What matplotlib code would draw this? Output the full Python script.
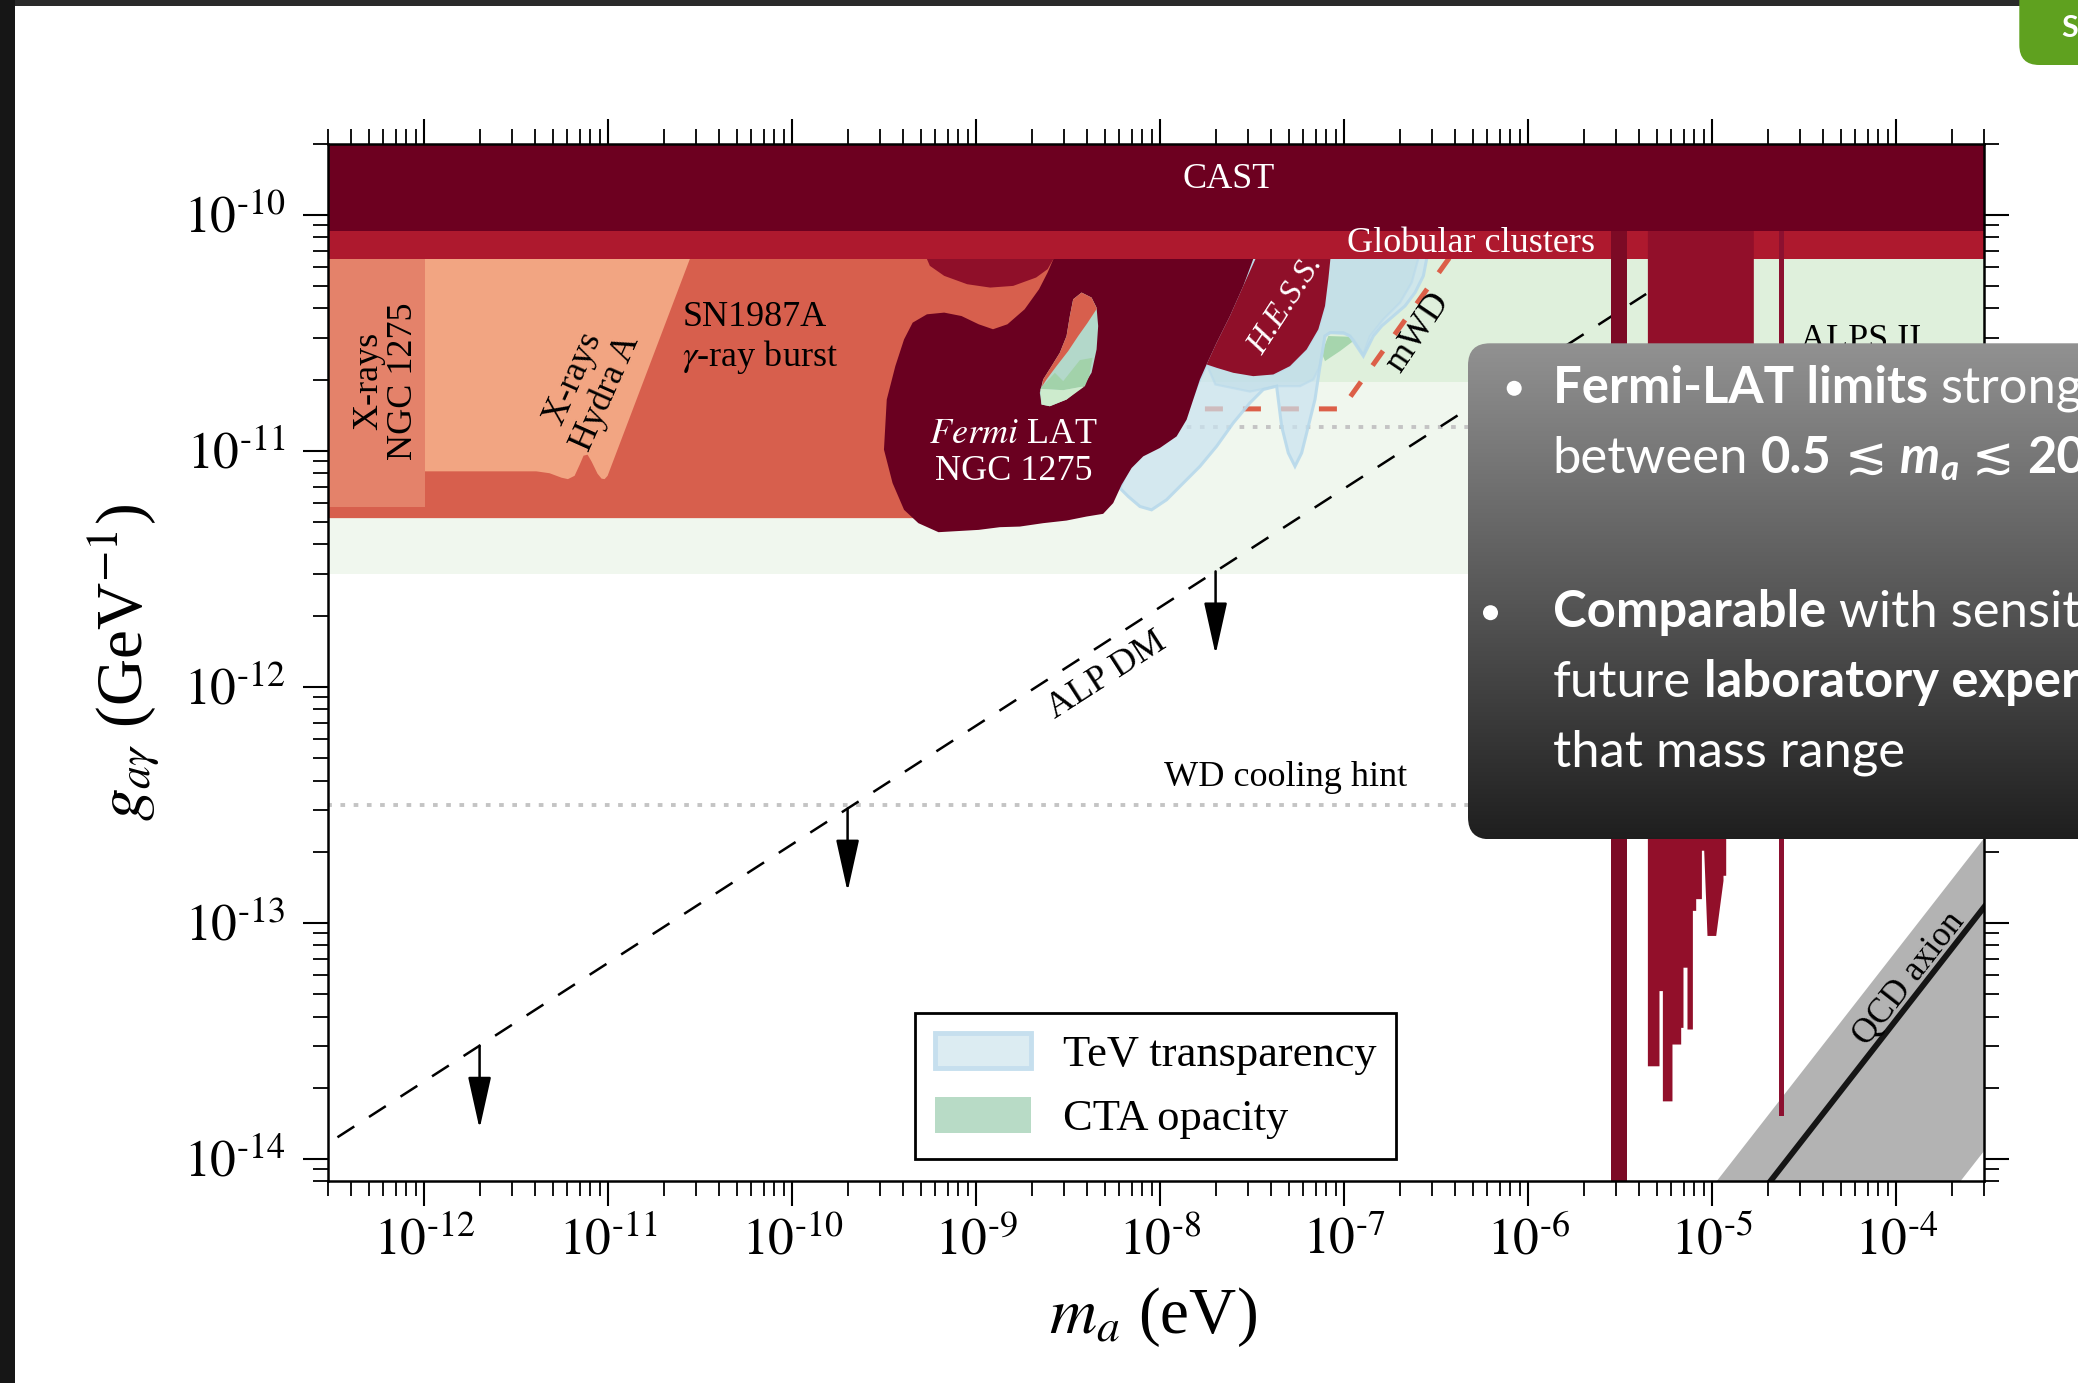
import numpy as np
import matplotlib
matplotlib.use("Agg")
import matplotlib.pyplot as plt
from matplotlib.patches import Polygon, FancyBboxPatch, Patch, Circle, Rectangle
from matplotlib.ticker import LogLocator, NullFormatter, FuncFormatter
from matplotlib.font_manager import FontProperties

plt.rcParams['font.family'] = ['Liberation Serif', 'DejaVu Serif']
plt.rcParams['mathtext.fontset'] = 'stix'

# ---------------- data: log10(m_a / eV), log10(g / GeV^-1) ----------------
x_limits = (3e-13, 3e-4)
y_limits = (8e-15, 2e-10)
x_span = [-12.6, -3.4]

cast_ly = [-10.069, -9.5]
globular_ly = [-10.189, -10.069]
light_green_ly = [-11.523, -10.189]
alps2_ly = [-10.7116, -10.189]

ngc_xray_lx = [-12.6, -11.993, -11.993, -12.6]
ngc_xray_ly = [-10.15, -10.15, -11.237, -11.237]

hydra_lx = [-12.6, -10.5376, -11.0033, -11.0196, -11.036, -11.058, -11.09, -11.112,
            -11.134, -11.155, -11.1827, -11.219, -11.2535, -11.3187, -11.391, -12.6]
hydra_ly = [-10.15, -10.15, -11.107, -11.121, -11.119, -11.098, -11.047, -11.0174,
            -11.0217, -11.06, -11.107, -11.121, -11.115, -11.096, -11.088, -11.088]

sn_lx = [-12.6, -8.25, -8.3441, -8.6432, -8.85, -9.1, -12.6]
sn_ly = [-10.15, -10.15, -10.3986, -10.73, -11.0, -11.2863, -11.2863]

fermi_lx = [-8.5807, -7.476, -7.5484, -7.6209, -7.6934, -7.7478, -7.7841, -7.8205, -7.8564,
            -7.9108, -8.0016, -8.0924, -8.1555, -8.2099, -8.2555, -8.31, -8.4002, -8.509,
            -8.6362, -8.7629, -8.8716, -8.9864, -9.205, -9.3143, -9.3921, -9.4546, -9.5013,
            -9.4861, -9.4394, -9.3921, -9.3453, -9.2676, -9.174, -9.0799, -8.9864, -8.9086,
            -8.8303, -8.7368, -8.6585, -8.6118, -8.5807]
fermi_ly = [-10.15, -10.15, -10.3023, -10.4298, -10.5431, -10.635, -10.699, -10.784, -10.869,
            -10.94, -10.989, -11.0246, -11.074, -11.145, -11.2226, -11.268, -11.2795, -11.2965,
            -11.3076, -11.322, -11.3246, -11.336, -11.3458, -11.3076, -11.251, -11.1376, -10.996,
            -10.784, -10.642, -10.529, -10.458, -10.4227, -10.4155, -10.43, -10.465, -10.486,
            -10.465, -10.4015, -10.3165, -10.2455, -10.189]

hole_lx = [-8.4274, -8.373, -8.3458, -8.3371, -8.3458, -8.373, -8.4187, -8.509, -8.5998,
           -8.6449, -8.6542, -8.6362, -8.5905, -8.5454, -8.509, -8.491, -8.4731]
hole_ly = [-10.3305, -10.3517, -10.3942, -10.4724, -10.5714, -10.6703, -10.7273, -10.7838,
           -10.8122, -10.805, -10.7553, -10.6988, -10.6423, -10.5854, -10.5149, -10.4299, -10.359]
hole_sn_lx = [-8.4275, -8.3731, -8.3441, -8.3967, -8.4457, -8.5, -8.5635, -8.6178, -8.6432,
              -8.636, -8.5906, -8.5453, -8.5091, -8.491, -8.4728]
hole_sn_ly = [-10.3307, -10.3519, -10.3986, -10.4609, -10.5147, -10.5785, -10.6422, -10.6988,
              -10.73, -10.6988, -10.6422, -10.5855, -10.5147, -10.4298, -10.359]
hole_green_lx = [-8.6396, -8.5725, -8.5272, -8.4366, -8.3677, -8.3858, -8.4094, -8.5272, -8.6505]
hole_green_ly = [-10.7271, -10.6705, -10.7059, -10.6167, -10.6068, -10.6847, -10.7272, -10.7441, -10.7385]
hole_pale_lx = [-8.6505, -8.5272, -8.4094, -8.5091, -8.5997, -8.645]
hole_pale_ly = [-10.7385, -10.7441, -10.7272, -10.7838, -10.8121, -10.805]

bulge_lx = [-9.2675, -9.2675, -9.2519, -9.1738, -9.049, -8.9241, -8.7992, -8.6744, -8.612, -8.5807, -8.5807]
bulge_ly = [-10.15, -10.189, -10.2173, -10.2598, -10.2952, -10.3094, -10.3023, -10.2669, -10.2315, -10.189, -10.15]

hess_lx = [-7.46, -7.07, -7.0862, -7.1043, -7.1406, -7.204, -7.2947, -7.3853, -7.4941,
           -7.6028, -7.6934, -7.7478, -7.6934, -7.6209, -7.5484]
hess_ly = [-10.15, -10.15, -10.274, -10.3873, -10.4864, -10.5714, -10.6422, -10.6776, -10.6847,
           -10.6705, -10.6493, -10.6351, -10.5431, -10.4298, -10.3023]

tev_lx = [-7.07, -6.5425, -6.5697, -6.615, -6.6694, -6.7328, -6.7963, -6.8416, -6.8778, -6.896,
          -6.9322, -6.9685, -7.0047, -7.0772, -7.1044, -7.1316, -7.1588, -7.195, -7.2313, -7.2675,
          -7.3038, -7.3401, -7.3673, -7.4398, -7.5123, -7.6029, -7.6935, -7.7841, -7.8747, -7.9653,
          -8.0469, -8.1103, -8.1738, -8.2191, -8.1466, -7.9653, -7.8566, -7.8022, -7.7478, -7.46]
tev_ly = [-10.15, -10.15, -10.2599, -10.3307, -10.3873, -10.4298, -10.4723, -10.5147, -10.5714, -10.5997,
          -10.5572, -10.5147, -10.5006, -10.5006, -10.5147, -10.6422, -10.7838, -10.8971, -11.0104, -11.067,
          -11.0104, -10.8971, -10.7272, -10.7413, -10.798, -10.8829, -10.982, -11.067, -11.1378, -11.2086,
          -11.2511, -11.2369, -11.1945, -11.1591, -11.0245, -10.9537, -10.8404, -10.7272, -10.6351, -10.15]
tev_core_lx = [-7.0862, -6.5841, -6.6331, -6.6966, -6.7872, -6.8597, -6.896, -6.9503, -6.9866,
               -7.0772, -7.1044, -7.1316, -7.1678, -7.2403, -7.3673, -7.5123, -7.7, -7.7478,
               -7.6934, -7.3853, -7.2947, -7.204, -7.1406, -7.1043]
tev_core_ly = [-10.15, -10.15, -10.2882, -10.3732, -10.4439, -10.5147, -10.5926, -10.5289, -10.5077,
               -10.5006, -10.5147, -10.6422, -10.6988, -10.7272, -10.7272, -10.75, -10.72, -10.6351,
               -10.6493, -10.6776, -10.6422, -10.5714, -10.4864, -10.3873]
cta_lx = [-7.0862, -6.9775, -6.9503, -7.0228, -7.1044, -7.1225]
cta_ly = [-10.5147, -10.5176, -10.536, -10.5785, -10.621, -10.5855]

bar1_lx = [-5.5519, -5.4622]
bar1_ly = [-14.3, -10.07]
haloscope_lx = [-5.3496, -5.3496, -5.2865, -5.2865, -5.2681, -5.2681, -5.2159, -5.2159, -5.1686,
                -5.1686, -5.1561, -5.1561, -5.1343, -5.1343, -5.105, -5.105, -5.087, -5.087,
                -5.056, -5.056, -5.0435, -5.0256, -4.9783, -4.9386, -4.9386, -4.9239, -4.9239,
                -4.7738, -4.7738]
haloscope_ly = [-10.07, -13.6088, -13.6088, -13.2902, -13.2902, -13.7574, -13.7574, -13.5166, -13.5166,
                -13.446, -13.446, -13.1911, -13.1911, -13.4529, -13.4529, -12.9503, -12.9503, -12.9006,
                -12.9006, -12.6954, -12.6954, -13.0565, -13.0565, -12.8229, -12.8016, -12.8016, -11.5,
                -11.5, -10.07]
bar3_lx = [-4.6357, -4.6112]
bar3_ly = [-13.8211, -10.07]

qcd_band_lx = [-5.0, -3.4, -3.4, -3.7]
qcd_band_ly = [-14.12, -12.52, -13.845, -14.145]
qcd_line_lx = [-4.75, -3.4]
qcd_line_ly = [-14.162, -12.812]

alp_dm_lx = [-12.4714, -5.3589]
alp_dm_ly = [-13.9095, -10.3364]
arrow_lx = [-11.699, -9.699, -7.699]
arrow_top_ly = [-13.5215, -12.5167, -11.5119]
arrow_len = 0.352

mwd_lx = [-7.757, -7.0138, -6.4337, -6.3979]
mwd_ly = [-10.8234, -10.8234, -10.1891, -10.15]
wd_hint_ly = -12.503
dotted_upper_ly = -10.9013

# ---------------- figure ----------------
W, H = 2078, 1383
fig = plt.figure(figsize=(W / 100, H / 100), dpi=100)
fig.patch.set_facecolor('white')
ax = fig.add_axes([0.15784, 0.14570, 0.79692, 0.75054])
ax.set_xscale('log')
ax.set_yscale('log')
ax.set_xlim(*x_limits)
ax.set_ylim(*y_limits)


def P(lx, ly):
    return np.column_stack([np.power(10.0, np.asarray(lx, float)), np.power(10.0, np.asarray(ly, float))])


def poly(lx, ly, z, **kw):
    p = Polygon(P(lx, ly), closed=True, zorder=z, **kw)
    ax.add_patch(p)
    return p


def hband(ly, color, z):
    poly([x_span[0], x_span[1], x_span[1], x_span[0]], [ly[0], ly[0], ly[1], ly[1]], z, fc=color, ec='none')


def vbar(lx, ly, color, z):
    poly([lx[0], lx[1], lx[1], lx[0]], [ly[0], ly[0], ly[1], ly[1]], z, fc=color, ec='none')


hband(light_green_ly, '#f0f7ee', 1.0)
hband(alps2_ly, '#dff0dc', 1.1)

dot = dict(color='#c4c4c4', lw=2.8, ls=(0, (1.2, 2.2)), zorder=1.2, solid_capstyle='butt')
ax.plot(10.0 ** np.array(x_span), [10 ** wd_hint_ly] * 2, **dot)
ax.plot(10.0 ** np.array(x_span), [10 ** dotted_upper_ly] * 2, **dot)
ax.plot(*P(mwd_lx, mwd_ly).T, color='#dc5f48', lw=3.6, ls=(0, (3.6, 4.0)), zorder=1.3)
ax.plot(*P(alp_dm_lx, alp_dm_ly).T, color='black', lw=1.8, ls=(0, (8, 7)), zorder=1.4)

poly(qcd_band_lx, qcd_band_ly, 1.5, fc='#b3b3b3', ec='none')
ax.plot(*P(qcd_line_lx, qcd_line_ly).T, color='#151515', lw=4.2, zorder=1.6, solid_capstyle='butt')

poly(cta_lx, cta_ly, 1.9, fc='#a6d5ad', ec='none')
poly(tev_lx, tev_ly, 2.0, fc=(0.79, 0.89, 0.94, 0.7), ec=(0.72, 0.85, 0.92, 0.9), lw=2.2)
poly(tev_core_lx, tev_core_ly, 2.05, fc=(0.70, 0.84, 0.89, 0.35), ec=(0.72, 0.85, 0.92, 0.6), lw=1.6)

poly(sn_lx, sn_ly, 2.2, fc='#d75f4d', ec='none')
poly(hydra_lx, hydra_ly, 2.3, fc='#f2a582', ec='none')
poly(ngc_xray_lx, ngc_xray_ly, 2.4, fc='#e4826a', ec='none')

poly(fermi_lx, fermi_ly, 3.0, fc='#6a0020', ec='none')
poly(hole_lx, hole_ly, 3.1, fc='#b3d8ca', ec='none')
poly(hole_sn_lx, hole_sn_ly, 3.2, fc='#d75f4d', ec='none')
poly(hole_green_lx, hole_green_ly, 3.3, fc='#a2d2aa', ec='none')
poly(hole_pale_lx, hole_pale_ly, 3.35, fc='#cdebcd', ec='none')
poly(bulge_lx, bulge_ly, 3.4, fc='#8f0f29', ec='none')
poly(hess_lx, hess_ly, 3.5, fc='#8f0f29', ec='none')

hband(globular_ly, '#ae192e', 4.0)
vbar(bar1_lx, bar1_ly, '#7c0a25', 4.1)
poly(haloscope_lx, haloscope_ly, 4.1, fc='#920f2a', ec='none')
vbar(bar3_lx, bar3_ly, '#8c1030', 4.1)
hband(cast_ly, '#6d0020', 4.2)

for lx, ly in zip(arrow_lx, arrow_top_ly):
    ax.annotate('', xy=(10 ** lx, 10 ** (ly - arrow_len)), xytext=(10 ** lx, 10 ** ly),
                arrowprops=dict(arrowstyle='-|>,head_length=0.9,head_width=0.2', lw=1.8,
                                color='black', mutation_scale=36, shrinkA=0, shrinkB=0),
                zorder=5)

fs = 26
def lab(lx, ly, s, **kw):
    kw.setdefault('ha', 'center')
    kw.setdefault('va', 'center')
    kw.setdefault('fontsize', fs)
    ax.text(10 ** lx, 10 ** ly, s, zorder=6, rotation_mode='anchor', **kw)

lab(-7.629, -9.85, 'CAST', color='white')
lab(-6.3105, -10.121, 'Globular clusters', color='white')
lab(-12.207, -10.707, 'X-rays\nNGC 1275', rotation=90, multialignment='center', linespacing=1.1)
lab(-11.101, -10.727, 'X-rays\nHydra A', rotation=66, multialignment='center', linespacing=1.1)
lab(-10.598, -10.526, 'SN1987A\n$\\gamma$-ray burst', ha='left', multialignment='left', linespacing=1.15)
lab(-8.796, -11.01, '$\\it{Fermi}$ LAT\nNGC 1275', color='white', multialignment='center', linespacing=1.15)
lab(-7.319, -10.382, 'H.E.S.S.', color='white', rotation=57, style='italic', fontsize=24)
lab(-6.60, -10.50, 'mWD', rotation=56)
lab(-4.195, -10.5325, 'ALPS II')
lab(-8.292, -11.955, 'ALP DM', rotation=32.7)
lab(-7.3192, -12.384, 'WD cooling hint')
lab(-3.931, -13.237, 'QCD axion', rotation=52, fontsize=25)

# axes styling
for s in ax.spines.values():
    s.set_linewidth(1.8)
    s.set_zorder(10)
ax.xaxis.set_zorder(10)
ax.yaxis.set_zorder(10)
for axis in (ax.xaxis, ax.yaxis):
    axis.set_major_locator(LogLocator(base=10, numticks=30))
    axis.set_minor_locator(LogLocator(base=10, subs=np.arange(2, 10), numticks=300))
    axis.set_minor_formatter(NullFormatter())
    axis.set_major_formatter(FuncFormatter(lambda v, p: r'$10^{\text{-}%d}$' % int(round(-np.log10(v)))))
ax.tick_params(which='both', direction='out', top=True, right=True, labeltop=False, labelright=False)
ax.tick_params(which='major', length=18, width=1.5, labelsize=37)
ax.tick_params(which='minor', length=11, width=1.3)
ax.tick_params(axis='x', which='major', pad=8)
ax.tick_params(axis='y', which='major', pad=13)

ax.set_xlabel(r'$m_a$ (eV)', fontsize=47)
ax.xaxis.set_label_coords(0.4982, -0.1)
ax.set_ylabel(r'$g_{a\gamma}$ (GeV$^{-1}$)', fontsize=47)
ax.yaxis.set_label_coords(-0.100, 0.5)

handles = [Patch(fc='#dcecf2', ec='#c6dfee', lw=3.5, label='TeV transparency'),
           Patch(fc='#b8dbc6', ec='none', label='CTA opacity')]
leg = ax.legend(handles=handles, loc='lower left', bbox_to_anchor=(0.3546, 0.0214), borderaxespad=0,
                fontsize=32, handlelength=2.15, handleheight=0.85, handletextpad=0.72,
                labelspacing=0.5, borderpad=0.45, frameon=True, fancybox=False,
                edgecolor='black', framealpha=1)
leg.get_frame().set_linewidth(2.0)
leg.set_zorder(8)

# ---------------- slide overlay (screenshot chrome) ----------------
oax = fig.add_axes([0, 0, 1, 1], zorder=20)
oax.set_autoscale_on(False)
oax.set_xlim(0, W)
oax.set_ylim(H, 0)
oax.axis('off')

oax.add_patch(Rectangle((0, 0), W, 6, fc='#2a2a2a', ec='none', zorder=1))
oax.add_patch(Rectangle((0, 0), 15, H, fc='#161616', ec='none', zorder=1))
oax.add_patch(FancyBboxPatch((2019.3, -40), 120, 105, boxstyle='round,pad=0,rounding_size=20',
                             fc='#5fa11f', ec='none', zorder=2))
oax.text(2061.7, 36.7, 'S', color='white', fontsize=22, fontweight='bold', family=['Lato', 'DejaVu Sans'],
         ha='left', va='baseline', zorder=3)

g = np.linspace(0, 1, 400)[:, None, None]
top_c = np.array([0.57, 0.57, 0.57])
bot_c = np.array([0.12, 0.12, 0.12])
img = np.repeat(top_c + (bot_c - top_c) * g, 2, axis=1)
im = oax.imshow(img, extent=(1468, 2130, 839.3, 343.3), aspect='auto', zorder=4, interpolation='bilinear')
box = FancyBboxPatch((1468, 343.3), 660, 496, boxstyle='round,pad=0,rounding_size=22',
                     fc='none', ec='none', transform=oax.transData)
oax.add_patch(box)
im.set_clip_path(box)
oax.set_xlim(0, W)
oax.set_ylim(H, 0)

renderer = fig.canvas.get_renderer()
fam = ['Lato', 'DejaVu Sans', 'STIXGeneral']


def space_width(size, weight, style):
    fp = FontProperties(family=fam, size=size, weight=weight, style=style)
    w2 = renderer.get_text_width_height_descent('a a', fp, ismath=False)[0]
    w1 = renderer.get_text_width_height_descent('aa', fp, ismath=False)[0]
    return w2 - w1


def run_line(x, y, parts, size=36.5):
    for txt, weight, style, dy, sz in parts:
        sz = sz or size
        if txt == ' ':
            x += space_width(sz, weight, style)
            continue
        t = oax.text(x, y + dy, txt, color='white', fontsize=sz, fontweight=weight, fontstyle=style,
                     family=fam, ha='left', va='baseline', zorder=6)
        x += t.get_window_extent(renderer).width
    return x


B, R = 'bold', 'normal'
N, I = 'normal', 'italic'
sp = (' ', R, N, 0, None)
x0 = 1552.6
oax.add_patch(Circle((1514.2, 388.3), 7.5, fc='white', ec='none', zorder=6))
oax.add_patch(Circle((1490.5, 612.7), 7.5, fc='white', ec='none', zorder=6))
run_line(x0, 403.3, [('Fermi-LAT limits', B, N, 0, None), sp, ('strongest', R, N, 0, None)])
run_line(x0, 473.3, [('between', R, N, 0, None), sp, ('0.5', B, N, 0, None), sp, ('\u2272', R, N, 0, None), sp,
                     ('m', B, I, 0, None), ('a', B, I, 7, 25), sp, ('\u2272', R, N, 0, None), sp,
                     ('20', B, N, 0, None)])
run_line(x0, 626.7, [('Comparable', B, N, 0, None), sp, ('with sensitivity', R, N, 0, None)])
run_line(x0, 696.7, [('future', R, N, 0, None), sp, ('laboratory experiments', B, N, 0, None)])
run_line(x0, 766.7, [('that mass range', R, N, 0, None)])

fig.savefig('out.png', dpi=100, facecolor='white')
